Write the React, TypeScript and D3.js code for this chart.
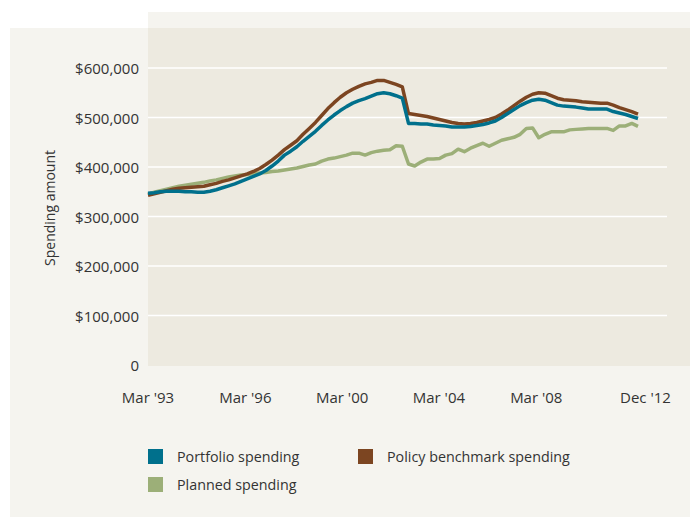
import React from "react";
import * as d3 from "d3";

const portfolio = [
  347, 348, 350, 351, 351, 351, 350, 350, 349, 349,
  351, 354, 358, 362, 366, 371, 376, 381, 386, 393,
  402, 412, 424, 432, 441, 452, 462, 472, 484, 495,
  505, 514, 522, 529, 534, 538, 543, 548, 550, 548,
  544, 539, 488, 488, 487, 487, 485, 484, 483, 481,
  481, 481, 482, 484, 486, 489, 493, 500, 508, 516,
  524, 530, 535, 537, 535, 530, 525, 523, 522, 521,
  519, 517, 517, 517, 517, 512, 509, 506, 502, 498,
];

const benchmark = [
  343, 346, 349, 352, 355, 357, 358, 359, 360, 361,
  364, 367, 371, 374, 378, 382, 386, 391, 397, 405,
  414, 424, 435, 444, 453, 466, 478, 490, 504, 518,
  530, 541, 550, 557, 563, 568, 571, 575, 575, 571,
  567, 562, 508, 506, 504, 502, 499, 496, 493, 490,
  488, 487, 488, 490, 493, 496, 500, 507, 515, 524,
  533, 541, 547, 550, 549, 544, 539, 536, 535, 534,
  532, 531, 530, 529, 529, 525, 520, 516, 512, 507,
];

const planned = [
  345, 349, 352, 355, 358, 361, 363, 365, 367, 369,
  372, 374, 377, 380, 382, 384, 385, 387, 388, 389,
  391, 392, 394, 396, 398, 401, 404, 406, 412, 416,
  418, 421, 424, 428, 428, 424, 429, 432, 434, 435,
  443, 442, 406, 402, 410, 416, 416, 417, 424, 427,
  436, 431, 438, 443, 448, 442, 448, 454, 457, 460,
  466, 478, 479, 459, 466, 471, 471, 471, 475, 476,
  477, 478, 478, 478, 478, 474, 483, 483, 488, 482,
];

const xTickLabels = ["Mar '93", "Mar '96", "Mar '00", "Mar '04", "Mar '08", "Dec '12"];
const xTickPositions = [0, 15.7, 31.3, 46.9, 62.6, 80.2];
const yTicks = [0, 100, 200, 300, 400, 500, 600];

const seriesNames = ["Portfolio spending", "Policy benchmark spending", "Planned spending"];
const seriesColors = ["#00708c", "#7c4521", "#9caf78"];

const FONT = "'Open Sans', sans-serif";

export default function App() {
  const W = 691;
  const H = 517;
  const x = d3.scaleLinear().domain([0, portfolio.length - 1]).range([148, 638]);
  const y = d3.scaleLinear().domain([0, 600]).range([365, 68]);
  const line = d3
    .line<number>()
    .x((_, i) => x(i))
    .y((d) => y(d));

  const fmt = (v: number) => (v === 0 ? "0" : "$" + d3.format(",")(v * 1000));

  const drawOrder = [2, 1, 0];
  const data = [portfolio, benchmark, planned];

  const legend = [
    { i: 0, lx: 148, ly: 449 },
    { i: 1, lx: 358, ly: 449 },
    { i: 2, lx: 148, ly: 477 },
  ];

  return (
    <svg
      width={W}
      height={H}
      style={{ position: "absolute", left: 0, top: 0, fontFamily: FONT }}
    >
      <rect x={10} y={28} width={680} height={489} fill="#f5f4ef" />
      <rect x={148} y={12} width={542} height={16} fill="#f5f4ef" />
      <rect x={148} y={28} width={542} height={338} fill="#edeae0" />

      {yTicks
        .filter((t) => t > 0)
        .map((t) => (
          <line
            key={t}
            x1={148}
            x2={667}
            y1={y(t)}
            y2={y(t)}
            stroke="#ffffff"
            strokeWidth={1.5}
          />
        ))}

      {yTicks.map((t) => (
        <text
          key={t}
          x={139}
          y={y(t)}
          textAnchor="end"
          dominantBaseline="central"
          fontSize={15}
          fill="#333333"
        >
          {fmt(t)}
        </text>
      ))}

      <text
        transform={`translate(49, 208) rotate(-90)`}
        textAnchor="middle"
        dominantBaseline="central"
        fontSize={14}
        fill="#333333"
      >
        Spending amount
      </text>

      {xTickLabels.map((lab, k) => (
        <text
          key={lab}
          x={x(xTickPositions[k])}
          y={397}
          textAnchor="middle"
          dominantBaseline="central"
          fontSize={15}
          fill="#333333"
        >
          {lab}
        </text>
      ))}

      {drawOrder.map((i) => (
        <path
          key={i}
          d={line(data[i]) || ""}
          fill="none"
          stroke={seriesColors[i]}
          strokeWidth={3.5}
          strokeLinejoin="round"
        />
      ))}

      {legend.map(({ i, lx, ly }) => (
        <g key={i}>
          <rect x={lx} y={ly} width={15} height={15} fill={seriesColors[i]} />
          <text
            x={lx + 29}
            y={ly + 7.5}
            dominantBaseline="central"
            fontSize={14.3}
            fill="#333333"
          >
            {seriesNames[i]}
          </text>
        </g>
      ))}
    </svg>
  );
}
